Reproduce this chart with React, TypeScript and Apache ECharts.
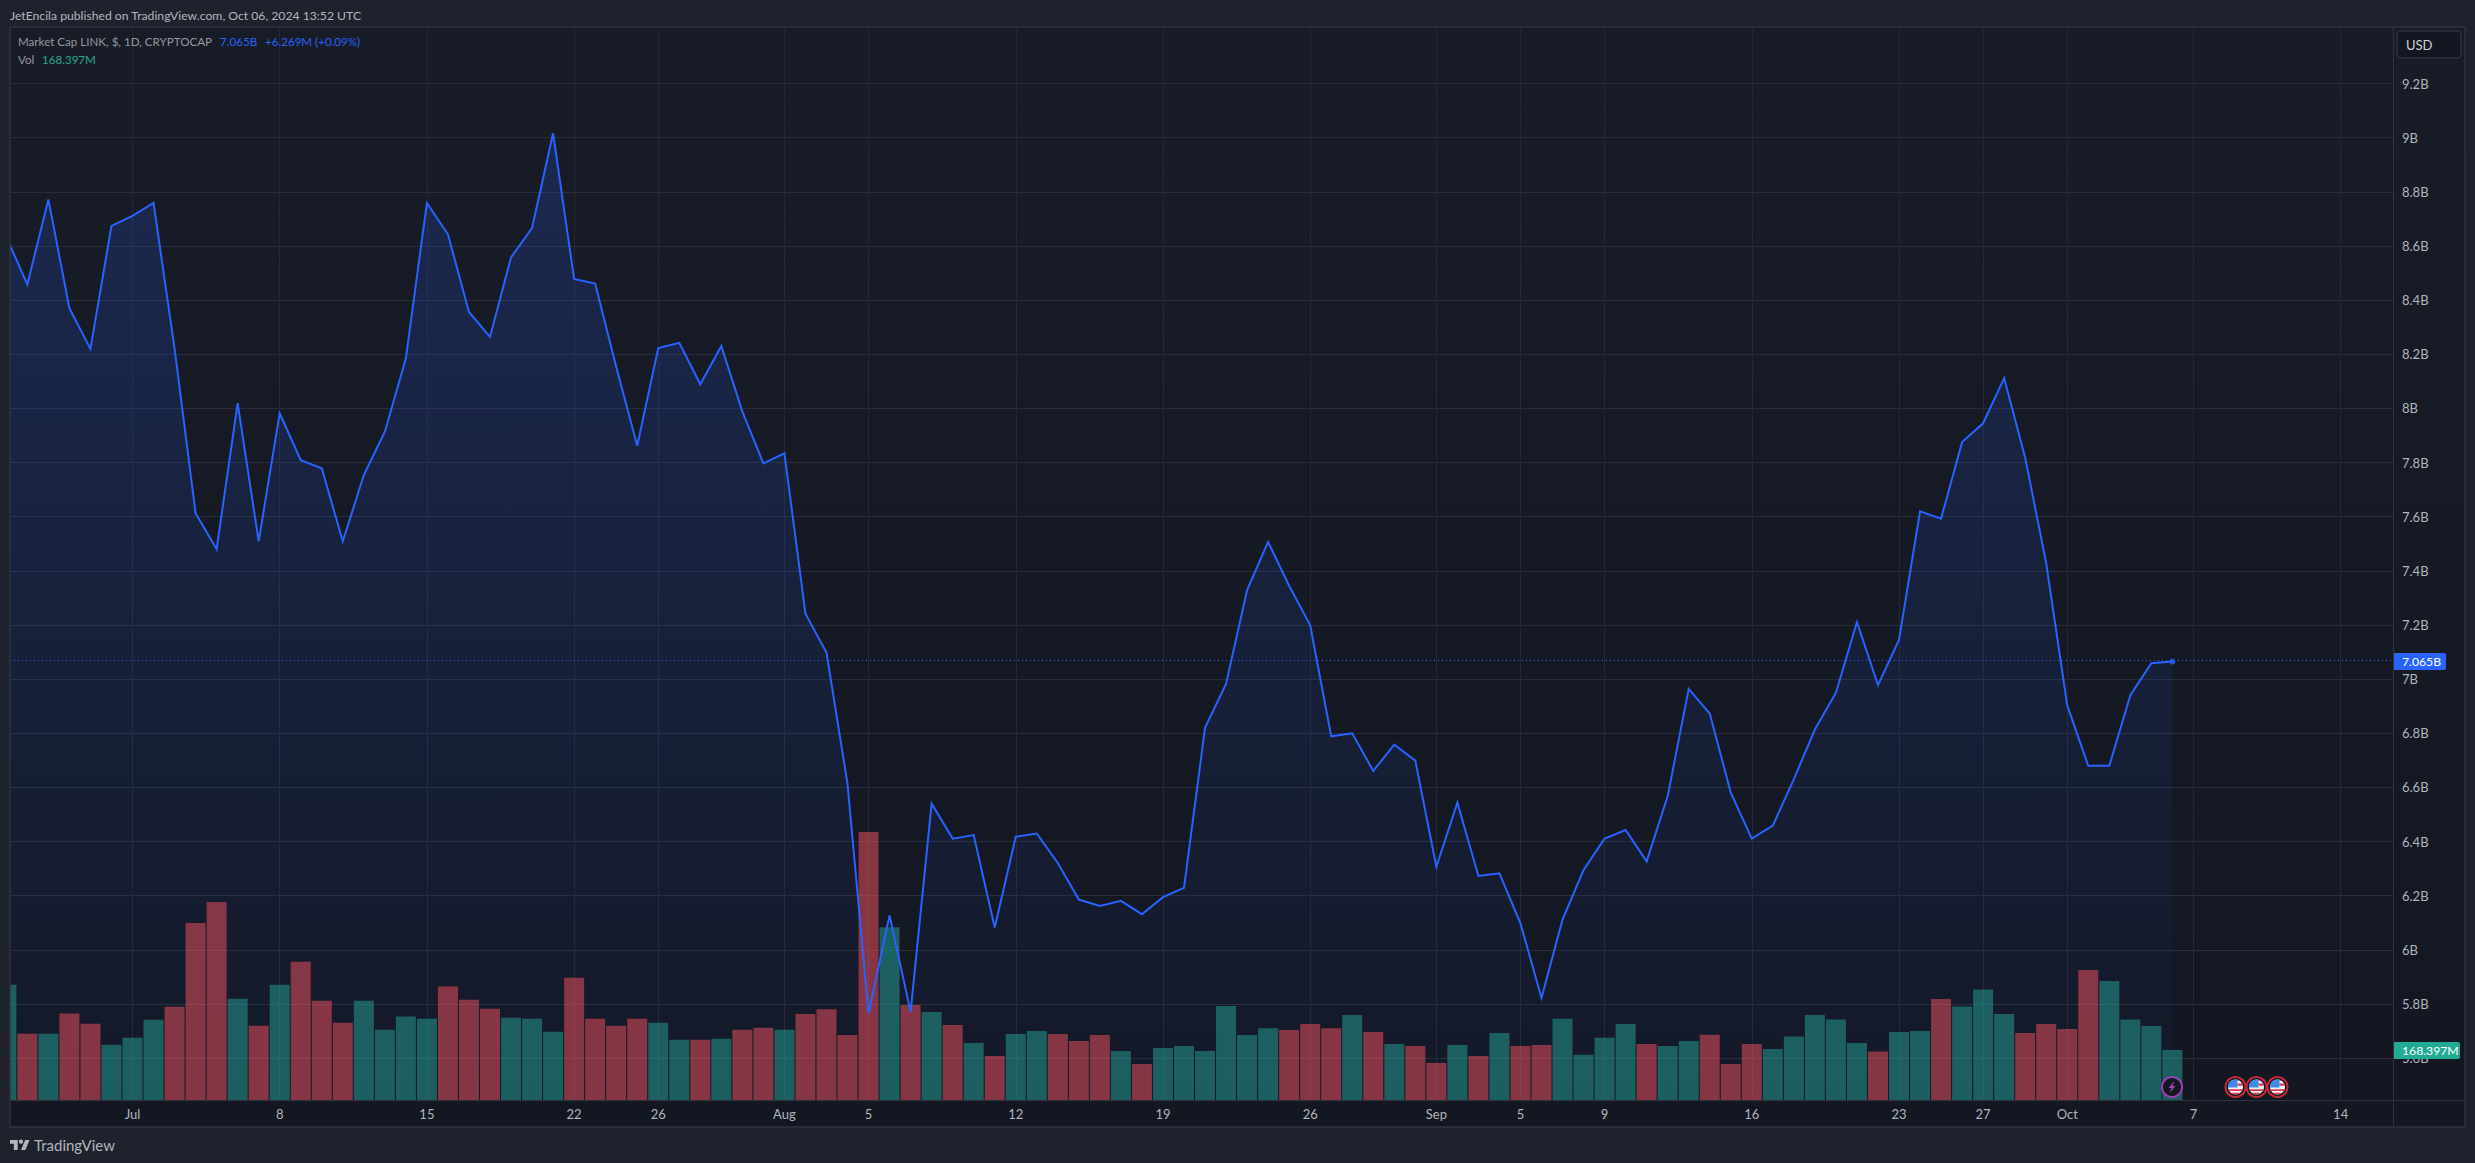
import React, { useEffect, useRef } from "react";
import * as echarts from "echarts";

const FONT = "Lato, 'Noto Sans', sans-serif";

// Days are counted from Jul 1 (day 0); the first sample is Jun 25.
const firstDay = -6;

const marketCapB = [
  8.633, 8.458, 8.772, 8.37, 8.22, 8.674,
  8.711, 8.759, 8.222, 7.613, 7.48, 8.019, 7.509, 7.982, 7.809, 7.779, 7.509, 7.754, 7.914, 8.185, 8.759, 8.643,
  8.356, 8.264, 8.558, 8.666, 9.016, 8.478, 8.461, 8.154, 7.862, 8.223, 8.242, 8.089, 8.23, 7.988, 7.797,
  7.834, 7.242, 7.098, 6.613, 5.766, 6.127, 5.771, 6.54, 6.411, 6.424, 6.083, 6.418, 6.43, 6.321, 6.186, 6.162,
  6.181, 6.132, 6.195, 6.229, 6.82, 6.982, 7.329, 7.507, 7.345, 7.2, 6.789, 6.8, 6.661, 6.758, 6.699,
  6.307, 6.544, 6.273, 6.283, 6.098, 5.822, 6.112, 6.295, 6.411, 6.443, 6.327, 6.568, 6.964, 6.873, 6.581, 6.411,
  6.459, 6.631, 6.814, 6.95, 7.211, 6.978, 7.145, 7.62, 7.593, 7.876, 7.945, 8.112, 7.818, 7.428,
  6.903, 6.68, 6.68, 6.941, 7.059, 7.065,
];

const volumeM = [
  388, 223, 223, 291, 257, 186,
  210, 270, 314, 596, 667, 341, 250, 388, 466, 334, 260, 334, 237, 281, 274, 382,
  338, 307, 277, 274, 230, 412, 274, 250, 274, 260, 203, 203, 206, 237, 243,
  237, 290, 306, 219, 903, 582, 320, 296, 253, 192, 148, 222, 232, 222, 199, 219,
  165, 121, 175, 182, 165, 317, 219, 242, 236, 256, 242, 286, 229, 189, 182,
  125, 185, 148, 226, 182, 185, 274, 152, 210, 256, 189, 182, 199, 220, 121, 189,
  172, 214, 286, 271, 192, 163, 229, 232, 340, 315, 372, 290, 226, 256,
  239, 438, 401, 271, 249, 168.397,
];

// u = green volume bar, d = red volume bar; one list per month
const directionJun = ["ududdu"];
const directionJul = ["uuddd", "ududd", "duuuu", "ddduu", "udddd", "uudud", "d"];
const directionAug = ["udddd", "ududu", "duudd", "duduu", "uuuud", "ddudu", "d"];
const directionSep = ["dudud", "duuuu", "duudd", "duuuu", "uduud", "uuudd"];
const directionOct = ["dduuuu"];
const volumeDirection = [directionJun, directionJul, directionAug, directionSep, directionOct]
  .map((m) => m.join(""))
  .join("")
  .split("");

const yTickValues = [5.6, 5.8, 6, 6.2, 6.4, 6.6, 6.8, 7, 7.2, 7.4, 7.6, 7.8, 8, 8.2, 8.4, 8.6, 8.8, 9, 9.2];
const xTickDays = [0, 7, 14, 21, 25, 31, 35, 42, 49, 56, 62, 66, 70, 77, 84, 88, 92, 98, 105];
const xTickLabels = ["Jul", "8", "15", "22", "26", "Aug", "5", "12", "19", "26", "Sep", "5", "9", "16", "23", "27", "Oct", "7", "14"];

const eventFlagCount = 3;

const TEXT = "#b2b5be";
const BLUE = "#2962ff";
const TEAL = "#22ab94";
const GRID_H = "#292d39";
const GRID_V = "#242835";
const BORDER = "#2f333f";

export default function App() {
  const ref = useRef<HTMLDivElement>(null);
  useEffect(() => {
    if (!ref.current) return;
    echarts.graphic.registerShape("tvLogo", echarts.graphic.extendPath("M14 22H7V11H0V4h14v18zM28 22h-8l7.5-18h8L28 22z", {}));
    echarts.graphic.registerShape("flagBlue", echarts.graphic.extendPath("M-7.5 0.5 A7.5 7.5 0 0 1 2 -7.2 L2 0.5 Z", {}));
    echarts.graphic.registerShape("flagRed", echarts.graphic.extendPath("M2 -7.2 A7.5 7.5 0 0 1 4.5 -6 L2 -6 Z M2 -3.5 L6.6 -3.5 A7.5 7.5 0 0 1 7.4 -1.2 L2 -1.2 Z M-7.2 2.2 L7.2 2.2 L6.6 4 L-6.6 4 Z M-4.8 5.8 L4.8 5.8 A7.5 7.5 0 0 1 -4.8 5.8 Z", {}));
    echarts.graphic.registerShape("bolt", echarts.graphic.extendPath("M2.5 -6 L-3.5 1 L-0.5 1 L-2.5 6 L3.5 -1 L0.5 -1 Z", {}));

    const chart = echarts.init(ref.current, undefined, { renderer: "svg", width: 2475, height: 1163 });
    const lastValue = marketCapB[marketCapB.length - 1];
    const lastDay = firstDay + marketCapB.length - 1;
    const linePoints = marketCapB.map((v, i) => [firstDay + i, v]);

    const txt = (x: number, y: number, text: string, fill: string, size = 11.6) => ({
      type: "text",
      x,
      y,
      z: 20,
      silent: true,
      style: { text, fill, font: `${size}px ${FONT}`, textVerticalAlign: "middle" },
    });

    const flagGroup = (k: number) => ({
      type: "group",
      x: 2235.5 + k * 21,
      y: 1087,
      z: 20,
      children: [
        { type: "circle", z: 20, shape: { r: 10 }, style: { fill: "#131722", stroke: "#c62a37", lineWidth: 2 } },
        { type: "circle", z: 21, shape: { r: 7.5 }, style: { fill: "#f0f3fa" } },
        { type: "flagRed", z: 22, style: { fill: "#e5394a" } },
        { type: "flagBlue", z: 23, style: { fill: "#3d8bea" } },
      ],
    });

    chart.setOption({
      animation: false,
      backgroundColor: "#1e222d",
      textStyle: { fontFamily: FONT },
      grid: { left: 10, right: 82, top: 27, bottom: 63, containLabel: false },
      xAxis: {
        type: "value",
        min: -5.825,
        max: 107.49,
        axisLine: { show: false },
        axisTick: { show: false, customValues: xTickDays },
        axisLabel: {
          color: TEXT,
          fontSize: 13,
          fontFamily: FONT,
          margin: 7,
          customValues: xTickDays,
          formatter: (v: number) => xTickLabels[xTickDays.indexOf(v)] ?? "",
        },
        splitLine: { show: true, lineStyle: { color: GRID_V, width: 1 } },
      },
      yAxis: [
        {
          type: "value",
          position: "right",
          min: 5.4456,
          max: 9.4087,
          axisLine: { show: false },
          axisTick: { show: false, customValues: yTickValues },
          axisLabel: {
            color: TEXT,
            fontSize: 13,
            fontFamily: FONT,
            margin: 9,
            padding: [0, 0, 2, 0],
            customValues: yTickValues,
            formatter: (v: number) => `${v}B`,
          },
          splitLine: { show: true, lineStyle: { color: GRID_H, width: 1 } },
        },
        { type: "value", show: false, min: 0, max: 3614, splitLine: { show: false } },
      ],
      series: [
        {
          name: "Market Cap area",
          type: "line",
          z: 1,
          silent: true,
          symbol: "none",
          data: linePoints,
          lineStyle: { opacity: 0 },
          areaStyle: {
            origin: "start",
            color: new echarts.graphic.LinearGradient(0, 0, 0, 1, [
              { offset: 0, color: "rgba(41,98,255,0.27)" },
              { offset: 1, color: "rgba(41,98,255,0.03)" },
            ]),
          },
        },
        {
          name: "Vol",
          type: "bar",
          z: 2,
          yAxisIndex: 1,
          barWidth: 20,
          silent: true,
          data: volumeM.map((v, i) => ({
            value: [firstDay + i, v],
            itemStyle: { color: volumeDirection[i] === "u" ? "rgba(38,166,154,0.5)" : "rgba(247,82,95,0.5)" },
          })),
        },
        {
          name: "Market Cap LINK",
          type: "line",
          z: 3,
          silent: true,
          symbol: "none",
          data: linePoints,
          lineStyle: { color: BLUE, width: 2, join: "miter" },
          markLine: {
            silent: true,
            symbol: "none",
            label: { show: false },
            lineStyle: { color: BLUE, type: [1, 3], width: 1 },
            data: [{ yAxis: lastValue }],
          },
        },
        {
          name: "Last",
          type: "scatter",
          z: 4,
          silent: true,
          symbolSize: 6,
          itemStyle: { color: BLUE },
          data: [[lastDay, lastValue]],
        },
      ],
      graphic: [
        { type: "rect", z: -10, silent: true, shape: { x: 10, y: 27, width: 2455, height: 1100 }, style: {
            fill: new echarts.graphic.LinearGradient(0, 0, 0, 1, [
              { offset: 0, color: "#181c27" },
              { offset: 1, color: "#131722" },
            ]),
          } },
        // the bar series does not clip a half-visible first bar on a value axis
        { type: "rect", z: 14, silent: true, shape: { x: 0, y: 27, width: 10, height: 1100 }, style: { fill: "#1e222d" } },
        { type: "rect", z: 15, silent: true, shape: { x: 10, y: 27, width: 2455, height: 1100 }, style: { fill: "none", stroke: BORDER, lineWidth: 1.5 } },
        { type: "line", z: 15, silent: true, shape: { x1: 2393.5, y1: 27, x2: 2393.5, y2: 1127 }, style: { stroke: BORDER, lineWidth: 1 } },
        { type: "line", z: 15, silent: true, shape: { x1: 10, y1: 1100.5, x2: 2465, y2: 1100.5 }, style: { stroke: BORDER, lineWidth: 1 } },

        txt(10, 15, "JetEncila published on TradingView.com, Oct 06, 2024 13:52 UTC", "#b2b5be", 12.2),
        txt(18, 41.5, "Market Cap LINK, $, 1D, CRYPTOCAP", "#9598a1"),
        txt(220, 41.5, "7.065B", BLUE),
        txt(265, 41.5, "+6.269M (+0.09%)", BLUE),
        txt(18, 59, "Vol", "#9598a1"),
        txt(42, 59, "168.397M", TEAL),

        { type: "rect", z: 16, silent: true, shape: { x: 2397, y: 31, width: 64, height: 27, r: 4 }, style: { fill: "#131722", stroke: "#363a45", lineWidth: 1 } },
        txt(2406, 44.5, "USD", "#d1d4dc", 13),

        { type: "rect", z: 16, silent: true, shape: { x: 2394, y: 653, width: 52, height: 17, r: [0, 2, 2, 0] }, style: { fill: BLUE } },
        txt(2402, 661.5, "7.065B", "#ffffff", 12.2),
        { type: "rect", z: 16, silent: true, shape: { x: 2394, y: 1042, width: 66, height: 17, r: [0, 2, 2, 0] }, style: { fill: TEAL } },
        txt(2402, 1050.5, "168.397M", "#ffffff", 12.2),

        {
          type: "group",
          x: 2172,
          y: 1087,
          z: 20,
          children: [
            { type: "circle", z: 20, shape: { r: 10 }, style: { fill: "#131722", stroke: "#9c3fb0", lineWidth: 2 } },
            { type: "bolt", z: 21, style: { fill: "#a347b8" } },
          ],
        },
        ...Array.from({ length: eventFlagCount }, (_, k) => flagGroup(k)),

        { type: "tvLogo", x: 10, y: 1137.8, scaleX: 0.55, scaleY: 0.55, z: 20, silent: true, style: { fill: "#b2b5be" } },
        { type: "circle", x: 10 + 20 * 0.55, y: 1137.8 + 7 * 0.55, z: 20, silent: true, shape: { r: 2.2 }, style: { fill: "#b2b5be" } },
        txt(34, 1145, "TradingView", "#b2b5be", 15),
      ],
    });
    return () => chart.dispose();
  }, []);
  return <div ref={ref} style={{ position: "fixed", left: 0, top: 0, width: 2475, height: 1163 }} />;
}
